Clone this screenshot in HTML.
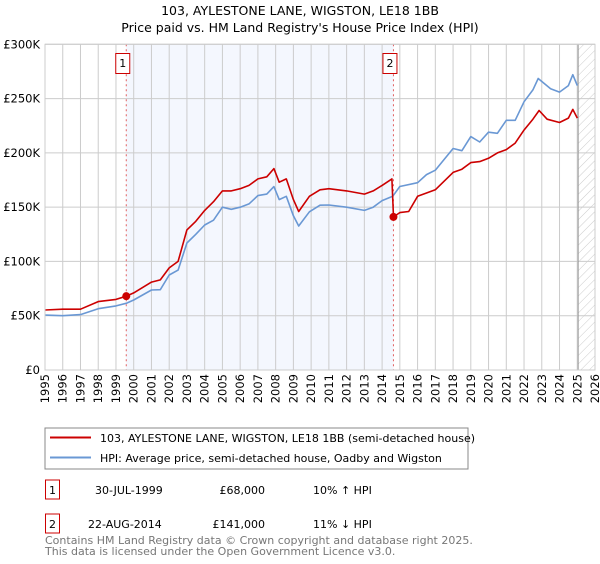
<!DOCTYPE html>
<html><head><meta charset="utf-8"><style>
body{margin:0;background:#fff;width:600px;height:560px;overflow:hidden;font-family:"DejaVu Sans","Liberation Sans",sans-serif;}
svg text{font-family:"DejaVu Sans","Liberation Sans",sans-serif;}
</style></head><body>
<svg id="c" width="600" height="560">
<defs><pattern id="hatch" width="6" height="6" patternUnits="userSpaceOnUse" patternTransform="rotate(45)"><line x1="0" y1="0" x2="0" y2="6" stroke="#ccc" stroke-width="1"/></pattern></defs>
<text x="300" y="15" text-anchor="middle" font-size="12.5" fill="#000">103, AYLESTONE LANE, WIGSTON, LE18 1BB</text>
<text x="300" y="32" text-anchor="middle" font-size="12.5" fill="#000">Price paid vs. HM Land Registry's House Price Index (HPI)</text>
<g id="plot"></g>
<rect x="45" y="428" width="423" height="41" fill="#fff" stroke="#888"/>
<line x1="50" y1="437.5" x2="91" y2="437.5" stroke="#cc0000" stroke-width="2"/>
<text x="100" y="442" font-size="11">103, AYLESTONE LANE, WIGSTON, LE18 1BB (semi-detached house)</text>
<line x1="50" y1="457.5" x2="91" y2="457.5" stroke="#6a98d4" stroke-width="2"/>
<text x="100" y="462" font-size="11">HPI: Average price, semi-detached house, Oadby and Wigston</text>
<g>
<rect x="45.5" y="480" width="14" height="19" fill="#fff" stroke="#cc0000"/><text x="52.5" y="494" text-anchor="middle" font-size="11">1</text>
<text x="95" y="494" font-size="11">30-JUL-1999</text><text x="265" y="494" text-anchor="end" font-size="11">£68,000</text><text x="313" y="494" font-size="11">10% ↑ HPI</text></g>
<g>
<rect x="45.5" y="514" width="14" height="19" fill="#fff" stroke="#cc0000"/><text x="52.5" y="528" text-anchor="middle" font-size="11">2</text>
<text x="88" y="528" font-size="11">22-AUG-2014</text><text x="265" y="528" text-anchor="end" font-size="11">£141,000</text><text x="313" y="528" font-size="11">11% ↓ HPI</text></g>
<text x="45" y="544" font-size="11" fill="#777">Contains HM Land Registry data © Crown copyright and database right 2025.</text>
<text x="45" y="555" font-size="11" fill="#777">This data is licensed under the Open Government Licence v3.0.</text>
</svg>
<script>
const hpiYears=[1995,1996,1997,1998,1999,1999.6,2000,2001,2001.5,2002,2002.5,2003,2003.5,2004,2004.5,2005,2005.5,2006,2006.5,2007,2007.5,2007.9,2008.2,2008.6,2009,2009.3,2009.9,2010.5,2011,2012,2013,2013.5,2014,2014.6,2015,2016,2016.5,2017,2018,2018.5,2019,2019.5,2020,2020.5,2021,2021.5,2022,2022.5,2022.8,2023.5,2024,2024.5,2024.75,2025];
const hpiValues=[50.6,50,51,56.5,59,61.5,64.5,73.7,74,87.5,92,117,125,133.6,138,150,148,150,153,160.6,162,168.9,157,160,142,132.6,145.7,151.8,152,150,147,150,156,160,169,172.5,180,184,204,202,215,210,219,218,230,230,247,258,268.5,259,256,262,272,262];
const propYears=[1995,1996,1997,1998,1999,1999.58,2000,2001,2001.5,2002,2002.5,2003,2003.5,2004,2004.5,2005,2005.5,2006,2006.5,2007,2007.5,2007.9,2008.2,2008.6,2009,2009.3,2009.9,2010.5,2011,2012,2013,2013.5,2014,2014.55,2014.64,2015,2015.5,2016,2016.5,2017,2018,2018.5,2019,2019.5,2020,2020.5,2021,2021.5,2022,2022.5,2022.85,2023.3,2024,2024.5,2024.75,2025];
const propValues=[55.3,56,56,63,65,68,71,81,83,94,100,129,137,147,155,165,165,167,170,176,178,185.5,173,176,157,146,160,166,167,165,162,165,170,176,141,145,146,160,163,166,182,185,191,192,195,200,203,209,221,231,239,231,228,232,240,232];
const saleYears=[1999.58,2014.64];
const saleValues=[68,141];
const saleLabels=["1","2"];
const yTicks=[0,50,100,150,200,250,300];
const yTickLabels=["£0","£50K","£100K","£150K","£200K","£250K","£300K"];
const x0=45,x1=595,y0=370,y1=44.3;
const X=t=>x0+(t-1995)*(x1-x0)/31;
const Y=v=>y0-v*(y0-y1)/300;
const NS="http://www.w3.org/2000/svg";
const g=document.getElementById('plot');
function mk(tag,attrs,parent){const e=document.createElementNS(NS,tag);for(const k in attrs)e.setAttribute(k,attrs[k]);(parent||g).appendChild(e);return e;}
let e;
e=mk('rect',{x:X(saleYears[0]),y:y1,width:X(saleYears[1])-X(saleYears[0]),height:y0-y1,fill:'#f4f7fe'});


e=mk('rect',{x:X(2025.05),y:y1,width:x1-X(2025.05),height:y0-y1,fill:'url(#hatch)'});


for(let yr=1995;yr<=2026;yr++){
 e=mk('line',{x1:X(yr),x2:X(yr),y1:y1,y2:y0,stroke:'#cccccc','stroke-width':1});
 
 
 e=mk('text',{x:0,y:0,transform:`translate(${X(yr)+4},${y0+4}) rotate(-90)`,'text-anchor':'end','font-size':11.5});
 e.textContent=yr;
 
 
}
yTicks.forEach((v,i)=>{
 e=mk('line',{x1:x0,x2:x1,y1:Y(v),y2:Y(v),stroke:'#cccccc','stroke-width':1});
 
 
 e=mk('text',{x:40,y:Y(v)+4,'text-anchor':'end','font-size':11.5});
 e.textContent=yTickLabels[i];
 
 
});
e=mk('line',{x1:X(2025.05),x2:X(2025.05),y1:y1,y2:y0,stroke:'#999','stroke-width':1});


saleYears.forEach((t,i)=>{
 e=mk('line',{x1:X(t),x2:X(t),y1:y1,y2:y0,stroke:'#e06060','stroke-width':1,'stroke-dasharray':'2,3'});
 
 
});
function path(xs,vs,col,name){
 const d=xs.map((t,i)=>(i?'L':'M')+X(t).toFixed(1)+','+Y(vs[i]).toFixed(1)).join('');
 const p=mk('path',{d:d,fill:'none',stroke:col,'stroke-width':1.6,'stroke-linejoin':'round'});
 
 
}
path(hpiYears,hpiValues,'#6a98d4','hpi-line');
path(propYears,propValues,'#cc0000','property-price-line');
saleYears.forEach((t,i)=>{
 e=mk('circle',{cx:X(t),cy:Y(saleValues[i]),r:4,fill:'#cc0000'});
 
 
 e=mk('rect',{x:X(t)-10.5,y:53.5,width:14,height:20,fill:'#fff',stroke:'#cc0000'});
 
 
 e=mk('text',{x:X(t)-3.5,y:67,'text-anchor':'middle','font-size':11});
 e.textContent=saleLabels[i];
 
 
});
e=mk('rect',{x:x0,y:y1,width:x1-x0,height:y0-y1,fill:'none',stroke:'#cccccc'});


</script>
</body></html>
